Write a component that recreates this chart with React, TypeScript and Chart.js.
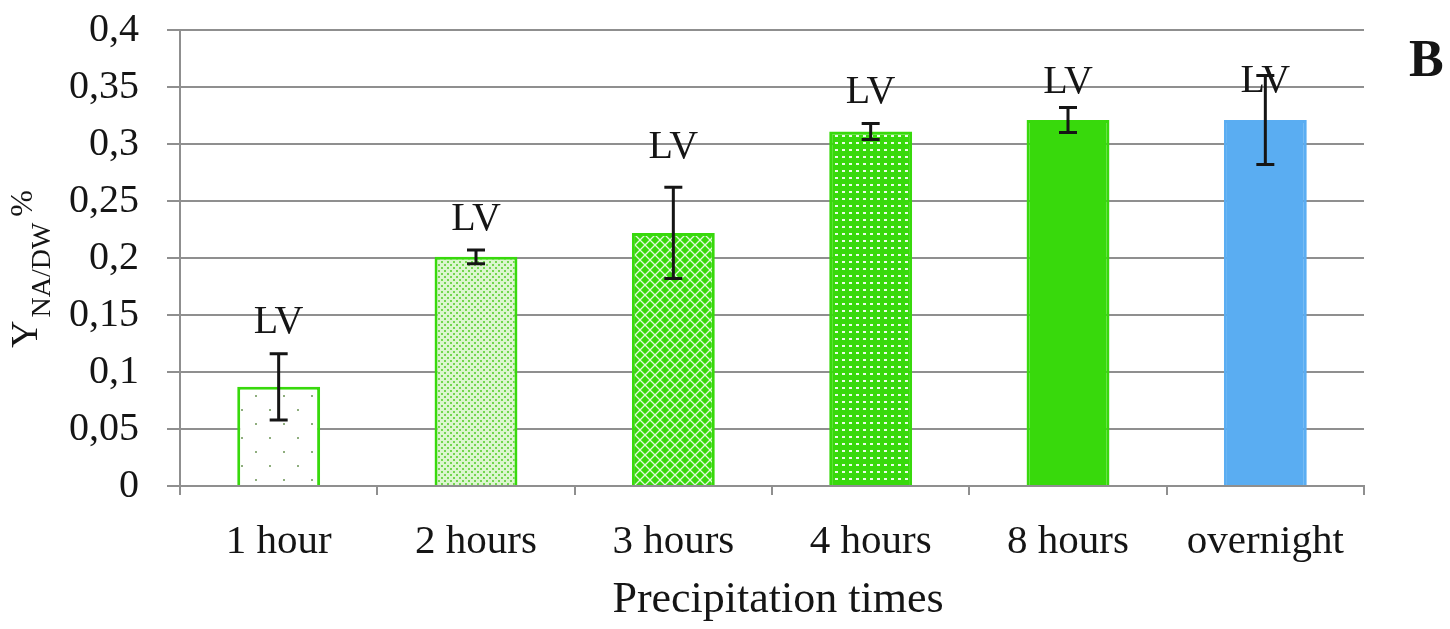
import React, { useEffect, useRef } from "react";
import { Chart, registerables } from "chart.js";

Chart.register(...registerables);

// ---- data ----
const categories = ["1 hour", "2 hours", "3 hours", "4 hours", "8 hours", "overnight"];
const values = [0.087, 0.201, 0.222, 0.311, 0.321, 0.321];
const errors = [0.029, 0.006, 0.04, 0.007, 0.011, 0.039];
const annotations = ["LV", "LV", "LV", "LV", "LV", "LV"];
const annotationLevels = [0.134, 0.225, 0.288, 0.336, 0.345, 0.346];
const yTickLabels = ["0", "0,05", "0,1", "0,15", "0,2", "0,25", "0,3", "0,35", "0,4"];
const yMin = 0;
const yMax = 0.4;
const yStep = 0.05;
const xTitle = "Precipitation times";
const yTitleMain = "Y";
const yTitleSub = "NA/DW";
const yTitleSup = "%";
const panelLabel = "B";

const SERIF = "'Liberation Serif', 'Times New Roman', serif";
const GRID = "#8f8f8f";
const GREEN = "#38d90c";
const BLUE = "#5aadf2";
const INK = "#151515";

function makeTile(w: number, h: number, draw: (c: CanvasRenderingContext2D) => void) {
  const cv = document.createElement("canvas");
  cv.width = w;
  cv.height = h;
  const c = cv.getContext("2d") as CanvasRenderingContext2D;
  draw(c);
  return (document.createElement("canvas").getContext("2d") as CanvasRenderingContext2D).createPattern(cv, "repeat");
}

function buildFills() {
  const sparseDots = makeTile(28, 28, (c) => {
    c.fillStyle = "#ffffff";
    c.fillRect(0, 0, 28, 28);
    c.fillStyle = "#8fae7e";
    c.fillRect(3, 3, 2, 2);
    c.fillRect(17, 17, 2, 2);
  });
  const fineDots = makeTile(6, 6, (c) => {
    c.fillStyle = "#dcf6cf";
    c.fillRect(0, 0, 6, 6);
    c.fillStyle = "#72d64f";
    c.fillRect(0, 0, 2, 2);
    c.fillRect(3, 3, 2, 2);
  });
  const lattice = makeTile(10, 10, (c) => {
    c.fillStyle = GREEN;
    c.fillRect(0, 0, 10, 10);
    c.strokeStyle = "rgba(255,255,255,0.85)";
    c.lineWidth = 1.3;
    c.beginPath();
    c.moveTo(-1, -1);
    c.lineTo(11, 11);
    c.moveTo(11, -1);
    c.lineTo(-1, 11);
    c.stroke();
  });
  const whiteDots = makeTile(7, 7, (c) => {
    c.fillStyle = GREEN;
    c.fillRect(0, 0, 7, 7);
    c.fillStyle = "rgba(255,255,255,0.9)";
    c.fillRect(2, 2, 3, 2);
  });
  return [sparseDots, fineDots, lattice, whiteDots, GREEN, BLUE];
}

const overlayPlugin = {
  id: "overlay",
  afterDatasetsDraw(chart: any) {
    const ctx = chart.ctx as CanvasRenderingContext2D;
    const x = chart.scales.x;
    const y = chart.scales.y;
    ctx.save();
    ctx.strokeStyle = INK;
    ctx.lineWidth = 3;
    values.forEach((v, i) => {
      const cx = x.getPixelForValue(i);
      const yt = y.getPixelForValue(v + errors[i]);
      const yb = y.getPixelForValue(v - errors[i]);
      ctx.beginPath();
      ctx.moveTo(cx, yt);
      ctx.lineTo(cx, yb);
      ctx.moveTo(cx - 9, yt);
      ctx.lineTo(cx + 9, yt);
      ctx.moveTo(cx - 9, yb);
      ctx.lineTo(cx + 9, yb);
      ctx.stroke();
    });
    ctx.fillStyle = INK;
    ctx.font = `40px ${SERIF}`;
    ctx.textAlign = "center";
    ctx.textBaseline = "alphabetic";
    annotations.forEach((t, i) => {
      ctx.fillText(t, x.getPixelForValue(i), y.getPixelForValue(annotationLevels[i]));
    });
    ctx.restore();
  },
  afterDraw(chart: any) {
    const ctx = chart.ctx as CanvasRenderingContext2D;
    const area = chart.chartArea;
    ctx.save();
    ctx.fillStyle = INK;
    // x axis title
    ctx.font = `44px ${SERIF}`;
    ctx.textAlign = "center";
    ctx.textBaseline = "alphabetic";
    ctx.fillText(xTitle, (area.left + area.right) / 2 + 6, 612);
    // panel label
    ctx.font = `bold 52px ${SERIF}`;
    ctx.textAlign = "left";
    ctx.fillText(panelLabel, 1409, 76);
    // y axis title (rotated, with subscript)
    ctx.translate(37, 348);
    ctx.rotate(-Math.PI / 2);
    ctx.textAlign = "left";
    ctx.font = `38px ${SERIF}`;
    ctx.fillText(yTitleMain, 0, 0);
    let u = ctx.measureText(yTitleMain).width + 3;
    ctx.font = `28px ${SERIF}`;
    ctx.fillText(yTitleSub, u, 13);
    u += ctx.measureText(yTitleSub).width + 6;
    ctx.font = `32px ${SERIF}`;
    ctx.fillText(yTitleSup, u, -5);
    ctx.restore();
  },
};

export default function App() {
  const ref = useRef<HTMLCanvasElement | null>(null);
  useEffect(() => {
    if (!ref.current) return;
    const fills = buildFills();
    const chart = new Chart(ref.current, {
      type: "bar",
      data: {
        labels: categories,
        datasets: [
          {
            data: values,
            backgroundColor: fills as any,
            borderColor: [GREEN, GREEN, GREEN, GREEN, GREEN, BLUE],
            borderWidth: 3,
            borderSkipped: "start",
            barPercentage: 0.42,
            categoryPercentage: 1,
          },
        ],
      },
      options: {
        responsive: true,
        maintainAspectRatio: false,
        animation: false,
        layout: { padding: { top: 30, right: 86, left: 0, bottom: 0 } },
        plugins: {
          legend: { display: false },
          tooltip: { enabled: false },
          title: { display: false },
        },
        scales: {
          x: {
            offset: true,
            grid: {
              display: true,
              drawOnChartArea: false,
              drawTicks: true,
              tickLength: 9,
              color: GRID,
              lineWidth: 2,
              offset: true,
            },
            border: { display: true, color: GRID, width: 2 },
            ticks: {
              font: { family: SERIF, size: 41 },
              color: INK,
              padding: 23,
              maxRotation: 0,
              autoSkip: false,
            },
            afterFit: (s: any) => {
              s.height = 143;
              s.paddingLeft = 0;
              s.paddingRight = 0;
            },
          },
          y: {
            min: yMin,
            max: yMax,
            ticks: {
              stepSize: yStep,
              font: { family: SERIF, size: 40 },
              color: INK,
              padding: 28,
              callback: (value: any) => yTickLabels[Math.round((Number(value) - yMin) / yStep)] ?? "",
            },
            grid: { color: GRID, lineWidth: 2, tickLength: 13, drawTicks: true },
            border: { display: true, color: GRID, width: 2 },
            afterFit: (s: any) => {
              s.width = 180;
              s.paddingTop = 0;
              s.paddingBottom = 0;
            },
          },
        },
      },
      plugins: [overlayPlugin],
    });
    return () => chart.destroy();
  }, []);
  return (
    <div style={{ position: "absolute", left: 0, top: 0, width: 1450, height: 629, background: "#fff" }}>
      <canvas ref={ref} style={{ display: "block" }} />
    </div>
  );
}
